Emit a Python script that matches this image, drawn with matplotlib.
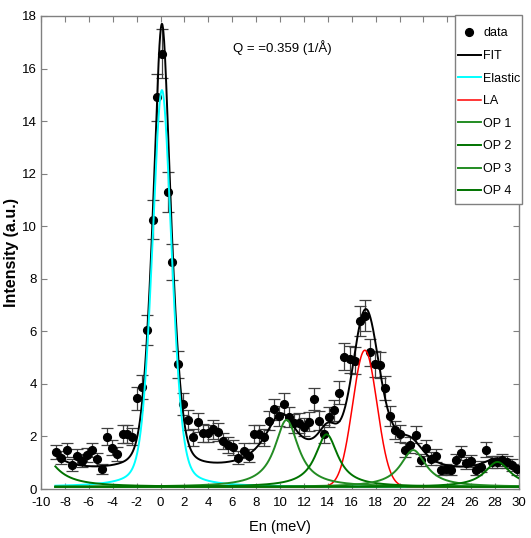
import numpy as np
import matplotlib
matplotlib.use("Agg")
import matplotlib.pyplot as plt
from matplotlib.patches import Rectangle

plt.rcParams['font.family'] = ['Liberation Sans', 'DejaVu Sans']
plt.rcParams['axes.unicode_minus'] = False

# ---------------- data ----------------
energy = [-8.74, -8.33, -7.85, -7.41, -7.01, -6.60, -6.15, -5.76, -5.31, -4.87,
          -4.48, -4.06, -3.61, -3.16, -2.78, -2.36, -1.94, -1.52, -1.10, -0.65,
          -0.27, 0.15, 0.60, 0.99, 1.44, 1.86, 2.31, 2.69, 3.12, 3.56,
          3.95, 4.40, 4.82, 5.22, 5.65, 6.07, 6.50, 6.96, 7.38, 7.82,
          8.22, 8.66, 9.08, 9.47, 9.89, 10.35, 10.75, 11.17, 11.59, 12.01,
          12.45, 12.87, 13.29, 13.71, 14.13, 14.54, 14.96, 15.38, 15.83, 16.25,
          16.67, 17.09, 17.53, 17.94, 18.34, 18.79, 19.20, 19.62, 20.05, 20.46,
          20.88, 21.34, 21.77, 22.18, 22.61, 23.03, 23.45, 23.88, 24.28, 24.73,
          25.13, 25.56, 25.98, 26.40, 26.82, 27.25, 27.71, 28.13, 28.55, 28.97,
          29.40, 29.80]
intensity = [1.42, 1.19, 1.48, 0.91, 1.25, 1.08, 1.29, 1.48, 1.13, 0.77,
             1.99, 1.57, 1.33, 2.09, 2.09, 1.99, 3.45, 3.89, 6.05, 10.25,
             14.90, 16.57, 11.30, 8.64, 4.74, 3.23, 2.62, 1.96, 2.54, 2.13,
             2.12, 2.27, 2.18, 1.83, 1.67, 1.58, 1.19, 1.46, 1.27, 2.09,
             2.09, 1.96, 2.60, 3.03, 2.78, 3.23, 2.75, 2.50, 2.52, 2.35,
             2.56, 3.41, 2.60, 2.09, 2.75, 3.00, 3.66, 5.03, 4.93, 4.88,
             6.39, 6.59, 5.20, 4.76, 4.71, 3.85, 2.78, 2.25, 2.10, 1.48,
             1.67, 2.07, 1.10, 1.56, 1.15, 1.27, 0.72, 0.77, 0.72, 1.10,
             1.37, 0.98, 1.06, 0.72, 0.85, 1.50, 1.02, 1.02, 1.10, 1.02,
             0.92, 0.75]
error = [0.27, 0.25, 0.28, 0.22, 0.26, 0.24, 0.26, 0.28, 0.24, 0.20,
         0.32, 0.29, 0.27, 0.33, 0.33, 0.32, 0.43, 0.45, 0.57, 0.74,
         0.89, 0.94, 0.77, 0.68, 0.50, 0.41, 0.37, 0.32, 0.37, 0.34,
         0.33, 0.35, 0.34, 0.31, 0.30, 0.29, 0.25, 0.28, 0.26, 0.33,
         0.33, 0.32, 0.37, 0.40, 0.38, 0.41, 0.38, 0.36, 0.37, 0.35,
         0.37, 0.42, 0.37, 0.33, 0.38, 0.40, 0.44, 0.52, 0.51, 0.51,
         0.58, 0.59, 0.52, 0.50, 0.50, 0.45, 0.38, 0.35, 0.33, 0.28,
         0.30, 0.33, 0.24, 0.29, 0.25, 0.26, 0.20, 0.20, 0.20, 0.24,
         0.27, 0.23, 0.24, 0.20, 0.21, 0.28, 0.23, 0.23, 0.24, 0.23,
         0.22, 0.20]

# ---------------- drawn component parameters ----------------
comp_offset = 0.08
elastic_center = 0.12
elastic_gauss_amp, elastic_gauss_sigma = 10.0, 0.86
elastic_lor_amp, elastic_lor_gamma = 5.1, 0.85
la_center, la_amp, la_sigma = 17.10, 5.20, 1.02
op_labels = ['OP 1', 'OP 2', 'OP 3', 'OP 4']
op_centers = [10.55, 13.90, 21.15, 28.20]
op_amps = [2.55, 2.00, 1.40, 0.95]
op_gammas = [1.20, 1.15, 1.30, 1.30]
op_colors = ['#238c23', '#007300', '#238c23', '#007300']
anti_center, anti_amp, anti_gamma = -10.3, 1.56, 1.5

# ---------------- total FIT parameters ----------------
fit_background = 0.6
fit_lor_centers = [-10.3, 10.1, 14.0, 21.0, 28.2]
fit_lor_amps = [1.3, 2.1, 1.3, 0.9, 0.5]
fit_lor_gammas = [1.5, 1.7, 1.2, 1.5, 1.5]
fit_gau_centers = [0.12, 17.15, 17.8]
fit_gau_amps = [1.9, 4.5, 1.4]
fit_gau_sigmas = [0.38, 1.0, 1.9]

x_range = (-8.8, 30.0)
title_text = 'Q = =0.359 (1/Å)'


def lor(x, a, c, g):
    return a / (1.0 + ((x - c) / g) ** 2)


def gau(x, a, c, s):
    return a * np.exp(-0.5 * ((x - c) / s) ** 2)


x = np.linspace(x_range[0], x_range[1], 2000)
elastic = gau(x, elastic_gauss_amp, elastic_center, elastic_gauss_sigma) + \
    lor(x, elastic_lor_amp, elastic_center, elastic_lor_gamma)
la = gau(x, la_amp, la_center, la_sigma)
ops = [lor(x, a, c, g) for a, c, g in zip(op_amps, op_centers, op_gammas)]
anti = lor(x, anti_amp, anti_center, anti_gamma)

fit = fit_background + elastic
for c, a, g in zip(fit_lor_centers, fit_lor_amps, fit_lor_gammas):
    fit = fit + lor(x, a, c, g)
for c, a, s in zip(fit_gau_centers, fit_gau_amps, fit_gau_sigmas):
    fit = fit + gau(x, a, c, s)

# ---------------- figure ----------------
W, H = 531, 538
fig = plt.figure(figsize=(W / 100, H / 100), dpi=100)
ax = fig.add_axes([41 / W, 49 / H, 478 / W, 473 / H])

ax.errorbar(energy, intensity, yerr=error, fmt='none', ecolor='#404040',
            elinewidth=0.9, capsize=4.3, capthick=0.9, zorder=2)
ax.plot(energy, intensity, 'o', color='black', markersize=5.6, zorder=3,
        label='data')

ax.plot(x, fit, color='black', lw=1.4, zorder=4, label='FIT')
ax.plot(x, elastic + comp_offset, color='#00FFFF', lw=1.4, zorder=4,
        label='Elastic')
ax.plot(x, la + comp_offset, color='#FF0000', lw=1.1, zorder=4, label='LA')
for lab, col, y in zip(op_labels, op_colors, ops):
    ax.plot(x, y + comp_offset, color=col, lw=1.4, zorder=4, label=lab)
ax.plot(x, anti + comp_offset, color='#007300', lw=1.4, zorder=4)

ax.set_xlim(-10, 30)
ax.set_ylim(0, 18)
ax.set_xticks(np.arange(-10, 31, 2))
ax.set_yticks(np.arange(0, 19, 2))
ax.tick_params(direction='in', length=4, width=0.8, color='#808080',
               top=True, right=True, labelsize=9.5, pad=3)
ax.tick_params(axis='x', pad=6)
for s in ax.spines.values():
    s.set_color('#808080')
    s.set_linewidth(1.0)

ax.set_xlabel('En (meV)', fontsize=10.5, labelpad=8)
ax.set_ylabel('Intensity (a.u.)', fontsize=11.5, fontweight='bold', labelpad=2)
ax.text(0.504, 0.934, title_text, transform=ax.transAxes, ha='center',
        va='center', fontsize=9.5)

# legend box (opaque, gray edge) and legend entries inside it
box = Rectangle((455 / W, (H - 204) / H), 67 / W, 189 / H,
                transform=fig.transFigure, facecolor='white',
                edgecolor='#808080', lw=1.0, zorder=5, clip_on=False)
ax.add_patch(box)
leg = ax.legend(loc='upper left', bbox_to_anchor=(458 / W, (H - 27.5) / H),
                bbox_transform=fig.transFigure, fontsize=9, numpoints=1,
                handlelength=1.8, handletextpad=0.2, labelspacing=0.845,
                borderpad=0.0, borderaxespad=0, frameon=False)
leg.set_zorder(6)

fig.savefig('out.png', dpi=100)
